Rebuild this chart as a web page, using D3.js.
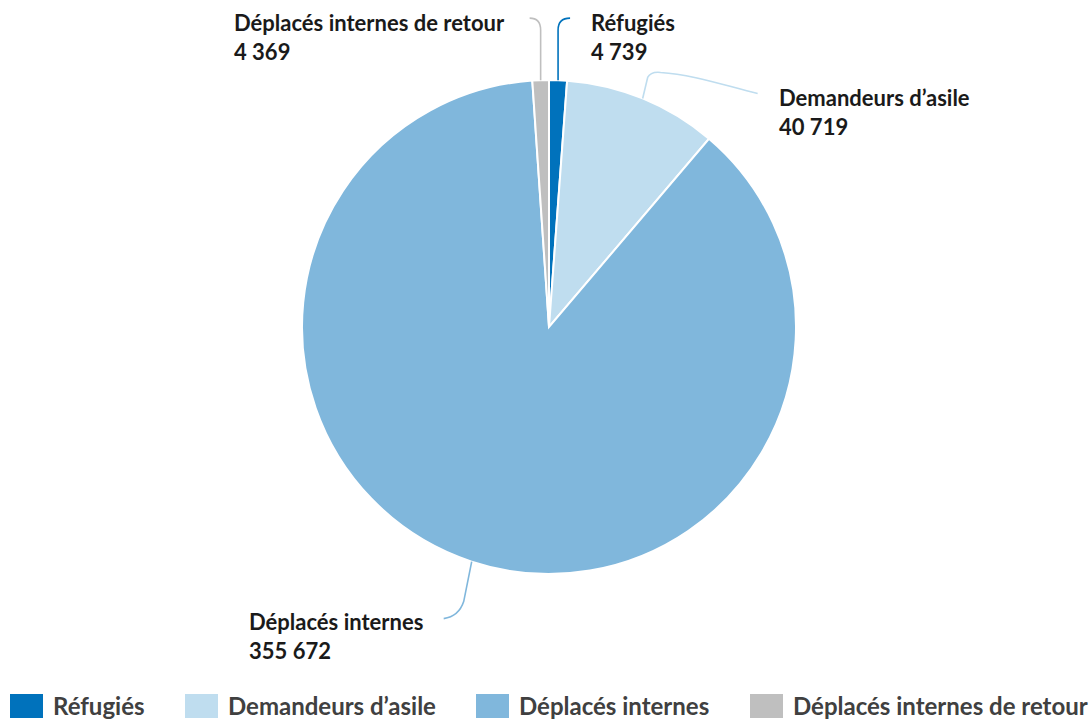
<!DOCTYPE html>
<html>
<head>
<meta charset="utf-8">
<script src="https://cdn.jsdelivr.net/npm/d3@7"></script>
<style>
  body { margin: 0; background: #fff; }
  text { font-family: Lato, "Open Sans", sans-serif; font-weight: bold; }
</style>
</head>
<body>
<script>
var svgWidth = 1091;
var svgHeight = 722;

// data
var categories = ["Réfugiés", "Demandeurs d’asile", "Déplacés internes", "Déplacés internes de retour"];
var values = [4739, 40719, 355672, 4369];
var valueLabels = ["4 739", "40 719", "355 672", "4 369"];
var colors = ["#0072BC", "#BFDDEF", "#80B7DC", "#BFBFBF"];

var svg = d3.select("body").append("svg").attr("width", svgWidth).attr("height", svgHeight);

var cx = 549, cy = 327, radius = 247;

var pie = d3.pie().sort(null).value(function(d) { return d; });
var arc = d3.arc().innerRadius(0).outerRadius(radius);
var arcs = pie(values);

var g = svg.append("g").attr("transform", "translate(" + cx + "," + cy + ")");

g.selectAll("path.slice").data(arcs).join("path")
    .attr("class", "slice")
    .attr("d", arc)
    .attr("fill", function(d, i) { return colors[i]; })
    .attr("stroke", "#fff")
    .attr("stroke-width", 2);

// point on the rim at mid angle of a slice
function rim(d) {
    var a = (d.startAngle + d.endAngle) / 2;
    return [radius * Math.sin(a), -radius * Math.cos(a)];
}

// leader lines: offsets from rim point (label layout)
var leaders = [
    function(p) { return "M" + p + "L" + [p[0], p[1] - 50] + "Q" + [p[0], p[1] - 62] + " " + [p[0] + 12, p[1] - 62]; },
    function(p) { return "M" + p + "L" + [p[0] + 5, p[1] - 21] + "Q" + [p[0] + 8, p[1] - 27] + " " + [p[0] + 18, p[1] - 26] + "C" + [p[0] + 50, p[1] - 24] + " " + [p[0] + 85, p[1] - 12] + " " + [p[0] + 115, p[1] - 5]; },
    function(p) { return "M" + p + "L" + [p[0] - 8, p[1] + 40] + "Q" + [p[0] - 13, p[1] + 55] + " " + [p[0] - 28, p[1] + 57]; },
    function(p) { return "M" + p + "L" + [p[0], p[1] - 50] + "Q" + [p[0], p[1] - 62] + " " + [p[0] - 11, p[1] - 62]; }
];
var labelPos = [[591, 31], [779, 106], [249, 630], [234, 31]];

g.selectAll("path.leader").data(arcs).join("path")
    .attr("class", "leader")
    .attr("d", function(d, i) { return leaders[i](rim(d)); })
    .attr("fill", "none")
    .attr("stroke", function(d, i) { return colors[i]; })
    .attr("stroke-width", 1.6);

var labels = svg.selectAll("text.label").data(categories).join("text")
    .attr("class", "label")
    .attr("x", function(d, i) { return labelPos[i][0]; })
    .attr("y", function(d, i) { return labelPos[i][1]; })
    .attr("font-size", 22)
    .attr("fill", "#1a1a1a");
labels.append("tspan").text(function(d) { return d; });
labels.append("tspan")
    .attr("x", function(d, i) { return labelPos[i][0]; })
    .attr("dy", 28.5)
    .text(function(d, i) { return valueLabels[i]; });

// legend
var legendX = [10, 185, 476, 750];
var legend = svg.selectAll("g.legend").data(categories).join("g")
    .attr("class", "legend")
    .attr("transform", function(d, i) { return "translate(" + legendX[i] + ",694)"; });
legend.append("rect")
    .attr("width", 33).attr("height", 24)
    .attr("fill", function(d, i) { return colors[i]; });
legend.append("text")
    .attr("x", 43).attr("y", 21)
    .attr("font-size", 24)
    .attr("fill", "#404040")
    .text(function(d) { return d; });
</script>
</body>
</html>
